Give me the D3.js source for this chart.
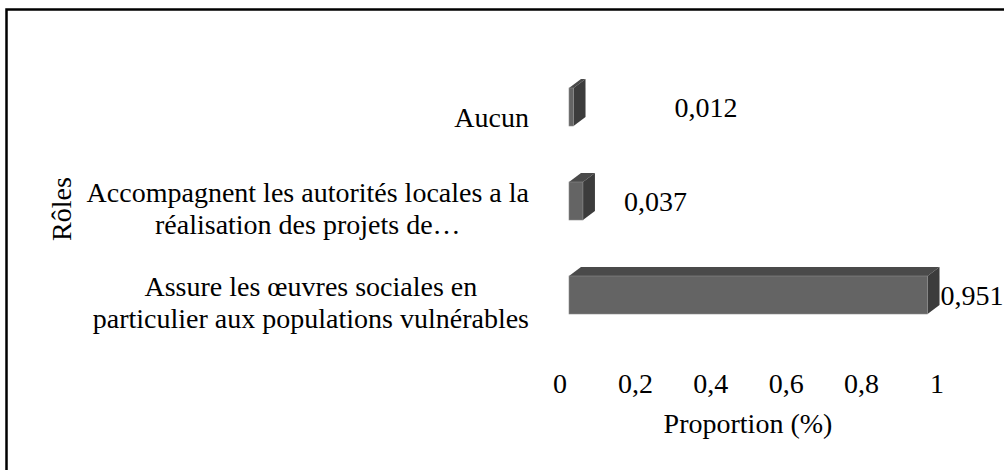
<!DOCTYPE html>
<html>
<head>
<meta charset="utf-8">
<script src="https://cdn.jsdelivr.net/npm/d3@7"></script>
<style>
  body { margin: 0; background: #fff; }
</style>
</head>
<body>
<div id="chart"></div>
<script>
// categories from top to bottom
var categories = [
    ["Aucun"],
    ["Accompagnent les autorités locales a la", "réalisation des projets de…"],
    ["Assure les œuvres sociales en", "particulier aux populations vulnérables"]
];
var values = [0.012, 0.037, 0.951];
var valueLabels = ["0,012", "0,037", "0,951"];
var ticks = [0, 0.2, 0.4, 0.6, 0.8, 1];
var tickLabels = ["0", "0,2", "0,4", "0,6", "0,8", "1"];

var W = 1004, H = 470,
    fontSize = 28,
    barHeight = 38,
    depthX = 12, depthY = -9,
    labelRight = 529;

var svg = d3.select("#chart").append("svg")
    .attr("width", W)
    .attr("height", H)
    .attr("font-family", "'Liberation Serif', 'DejaVu Serif', serif")
    .attr("font-size", fontSize);

// outer frame (runs off right and bottom edges)
svg.append("rect")
    .attr("x", 6.5).attr("y", 9.5)
    .attr("width", 1100).attr("height", 600)
    .attr("fill", "none")
    .attr("stroke", "#000")
    .attr("stroke-width", 2.5);

var x = d3.scaleLinear().domain([0, 1]).range([569, 946]);
var y = d3.scalePoint().domain(d3.range(categories.length)).range([107, 295]);

// 3D bars: top, side, front
var bars = svg.selectAll(".bar")
    .data(values)
    .enter().append("g")
    .attr("class", "bar");

bars.append("path")
    .attr("fill", "#4a4a4a")
    .attr("d", function(d, i) {
        var x0 = x(0), x1 = x(d), yt = y(i) - barHeight / 2;
        return "M" + x0 + "," + yt + "L" + (x0 + depthX) + "," + (yt + depthY) +
            "L" + (x1 + depthX) + "," + (yt + depthY) + "L" + x1 + "," + yt + "Z";
    });

bars.append("path")
    .attr("fill", "#3c3c3c")
    .attr("d", function(d, i) {
        var x1 = x(d), yt = y(i) - barHeight / 2, yb = yt + barHeight;
        return "M" + x1 + "," + yt + "L" + (x1 + depthX) + "," + (yt + depthY) +
            "L" + (x1 + depthX) + "," + (yb + depthY) + "L" + x1 + "," + yb + "Z";
    });

bars.append("rect")
    .attr("x", x(0))
    .attr("y", function(d, i) { return y(i) - barHeight / 2; })
    .attr("width", function(d) { return x(d) - x(0); })
    .attr("height", barHeight)
    .attr("fill", "#646464")
    .attr("stroke", "#8a8a8a")
    .attr("stroke-width", 0.6);

// value labels (placed where the original chart had them)
var labelOffset = [89, 29, 1];
svg.selectAll(".value-label")
    .data(values)
    .enter().append("text")
    .attr("class", "value-label")
    .attr("x", function(d, i) { return x(d) + depthX + labelOffset[i]; })
    .attr("y", function(d, i) { return y(i) + 10; })
    .text(function(d, i) { return valueLabels[i]; });

// category labels: block right-aligned, lines centred inside the block
var cat = svg.selectAll(".category-label")
    .data(categories)
    .enter().append("text")
    .attr("class", "category-label")
    .attr("text-anchor", "middle")
    .attr("y", function(d, i) { return y(i) + 20 - (d.length - 1) * 19; });

cat.selectAll("tspan")
    .data(function(d) { return d; })
    .enter().append("tspan")
    .attr("dy", function(d, j) { return j === 0 ? 0 : 32; })
    .text(function(d) { return d; });

cat.each(function() {
    var spans = d3.select(this).selectAll("tspan");
    var maxW = d3.max(spans.nodes(), function(n) { return n.getComputedTextLength(); });
    spans.attr("x", labelRight - maxW / 2);
});

// x tick labels
svg.selectAll(".tick-label")
    .data(ticks)
    .enter().append("text")
    .attr("class", "tick-label")
    .attr("text-anchor", "middle")
    .attr("x", function(d) { return x(d) - 9; })
    .attr("y", 393)
    .text(function(d, i) { return tickLabels[i]; });

// axis titles
svg.append("text")
    .attr("text-anchor", "middle")
    .attr("x", 748)
    .attr("y", 433)
    .text("Proportion (%)");

svg.append("text")
    .attr("text-anchor", "middle")
    .attr("transform", "translate(71,209) rotate(-90)")
    .text("Rôles");
</script>
</body>
</html>
